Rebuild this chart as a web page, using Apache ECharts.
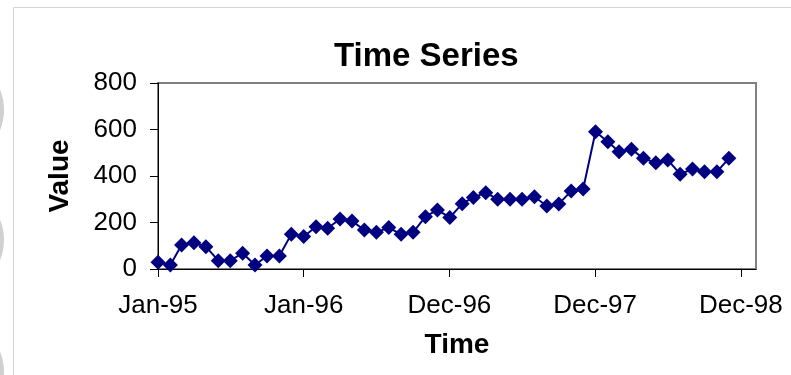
<!DOCTYPE html>
<html>
<head>
<meta charset="utf-8">
<script src="https://cdn.jsdelivr.net/npm/echarts@6/dist/echarts.min.js"></script>
<style>
  html, body { margin: 0; padding: 0; background: #ffffff; }
  #chart { width: 791px; height: 375px; }
</style>
</head>
<body>
<div id="chart"></div>
<script>
// Monthly observations, January 1995 through December 1998
const years = [1995, 1996, 1997, 1998];
const values1995 = [29, 17, 103, 113, 96, 36, 36, 68, 17, 56, 56, 150];
const values1996 = [140, 182, 175, 215, 206, 168, 158, 178, 149, 158, 225, 254];
const values1997 = [221, 281, 308, 328, 300, 300, 300, 311, 271, 280, 335, 344];
const values1998 = [590, 547, 504, 515, 476, 457, 469, 408, 430, 418, 418, 476];

// Date axis: ticks every 365 days starting 1 Jan 1995
const xTickLabels = ['Jan-95', 'Jan-96', 'Dec-96', 'Dec-97', 'Dec-98'];
const yTickLabels = ['0', '200', '400', '600', '800'];

const DAY = 86400000;
const origin = Date.UTC(1995, 0, 1);
const xTickDays = xTickLabels.map((_, i) => i * 365);
const xMaxDays = 1498;

const yearValues = [values1995, values1996, values1997, values1998];
const points = [];
years.forEach((y, yi) => {
  yearValues[yi].forEach((v, m) => {
    const days = (Date.UTC(y, m, 1) - origin) / DAY;
    points.push([days, v]);
  });
});

const FONT = '"Liberation Sans", Arial, sans-serif';
const chart = echarts.init(document.getElementById('chart'), null, { renderer: 'canvas' });

chart.setOption({
  backgroundColor: '#ffffff',
  animation: false,
  title: {
    text: 'Time Series',
    left: 334,
    top: 40,
    padding: 0,
    textStyle: { fontFamily: FONT, fontSize: 33, fontWeight: 'bold', color: '#000' }
  },
  graphic: [
    { type: 'rect', shape: { x: 13.5, y: 7.5, width: 800, height: 400 },
      style: { fill: 'none', stroke: '#d4d4d4', lineWidth: 1 }, silent: true },
    { type: 'circle', shape: { cx: -50, cy: 110, r: 54 }, style: { fill: '#d0d0d0' }, silent: true },
    { type: 'circle', shape: { cx: -50, cy: 240, r: 54 }, style: { fill: '#d0d0d0' }, silent: true },
    { type: 'circle', shape: { cx: -50, cy: 372, r: 54 }, style: { fill: '#d0d0d0' }, silent: true }
  ],
  grid: {
    left: 158, right: 35, top: 83, bottom: 106,
    show: true, borderColor: '#808080', borderWidth: 2, backgroundColor: '#ffffff'
  },
  xAxis: {
    type: 'value',
    min: 0,
    max: xMaxDays,
    interval: 365,
    name: 'Time',
    nameLocation: 'middle',
    nameGap: 62,
    nameTextStyle: { fontFamily: FONT, fontSize: 28, fontWeight: 'bold', color: '#000' },
    splitLine: { show: false },
    axisLine: { lineStyle: { color: '#000', width: 1 } },
    axisTick: { show: true, inside: false, length: 8, customValues: xTickDays, lineStyle: { color: '#000' } },
    axisLabel: {
      customValues: xTickDays,
      margin: 24,
      fontFamily: FONT, fontSize: 26, color: '#000',
      formatter: v => {
        const i = xTickDays.indexOf(Math.round(v));
        return i >= 0 ? xTickLabels[i] : '';
      }
    }
  },
  yAxis: {
    type: 'value',
    min: 0,
    max: 800,
    interval: 200,
    name: 'Value',
    nameLocation: 'middle',
    nameRotate: 90,
    nameGap: 84,
    nameTextStyle: { fontFamily: FONT, fontSize: 28, fontWeight: 'bold', color: '#000' },
    splitLine: { show: false },
    axisLine: { show: true, lineStyle: { color: '#000', width: 1 } },
    axisTick: { show: true, inside: false, length: 8, lineStyle: { color: '#000' } },
    axisLabel: {
      margin: 21,
      fontFamily: FONT, fontSize: 26, color: '#000',
      formatter: v => yTickLabels[Math.round(v / 200)]
    }
  },
  series: [{
    type: 'line',
    data: points,
    symbol: 'diamond',
    symbolSize: 15,
    itemStyle: { color: '#000080' },
    lineStyle: { color: '#000080', width: 2 },
    z: 3
  }]
});
</script>
</body>
</html>
